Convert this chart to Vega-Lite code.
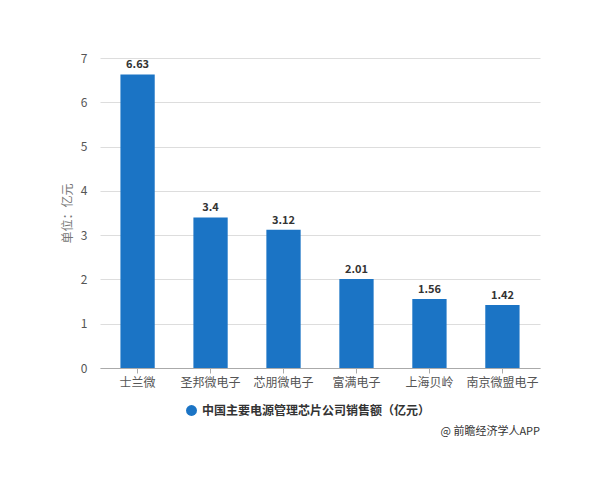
{
  "$schema": "https://vega.github.io/schema/vega-lite/v6.json",
  "width": 440,
  "height": 310,
  "autosize": "none",
  "padding": {"left": 100, "top": 58, "right": 60, "bottom": 112},
  "background": "white",
  "config": {"font": "Noto Sans CJK SC", "view": {"stroke": null}},
  "title": {"text": "@ 前瞻经济学人APP", "orient": "bottom", "anchor": "end", "fontSize": 11, "fontWeight": "normal", "color": "#333", "offset": 9},
  "data": {"values": [
    {"company": "士兰微", "value": 6.63, "series": "中国主要电源管理芯片公司销售额（亿元）"},
    {"company": "圣邦微电子", "value": 3.4, "series": "中国主要电源管理芯片公司销售额（亿元）"},
    {"company": "芯朋微电子", "value": 3.12, "series": "中国主要电源管理芯片公司销售额（亿元）"},
    {"company": "富满电子", "value": 2.01, "series": "中国主要电源管理芯片公司销售额（亿元）"},
    {"company": "上海贝岭", "value": 1.56, "series": "中国主要电源管理芯片公司销售额（亿元）"},
    {"company": "南京微盟电子", "value": 1.42, "series": "中国主要电源管理芯片公司销售额（亿元）"}
  ]},
  "encoding": {
    "x": {"field": "company", "type": "nominal", "sort": null,
      "scale": {"paddingInner": 0.53, "paddingOuter": 0.28},
      "axis": {"title": null, "labelAngle": 0, "labelFontSize": 12, "labelColor": "#555", "labelPadding": 4, "domainColor": "#aaa", "tickColor": "#aaa", "tickSize": 5, "grid": false}},
    "y": {"field": "value", "type": "quantitative",
      "scale": {"domain": [0, 7]},
      "axis": {"title": "单位：亿元", "titleFontSize": 12, "titleFontWeight": "normal", "titleColor": "#777", "titlePadding": 6, "tickCount": 7, "labelFontSize": 12, "labelColor": "#555", "labelPadding": 13, "domain": false, "ticks": false, "gridColor": "#ddd"}}
  },
  "layer": [
    {"mark": {"type": "bar"},
     "encoding": {"color": {"field": "series", "type": "nominal",
       "scale": {"range": ["#1b74c5"]},
       "legend": {"title": null, "orient": "none", "legendX": 85, "legendY": 346, "symbolType": "circle", "symbolSize": 120, "labelFontSize": 12, "labelFontWeight": "bold", "labelColor": "#333", "labelLimit": 400, "symbolOpacity": 1}}}},
    {"mark": {"type": "text", "dy": -9, "fontSize": 11, "fontWeight": "bold", "color": "#333"},
     "encoding": {"text": {"field": "value", "type": "quantitative"}}}
  ]
}
